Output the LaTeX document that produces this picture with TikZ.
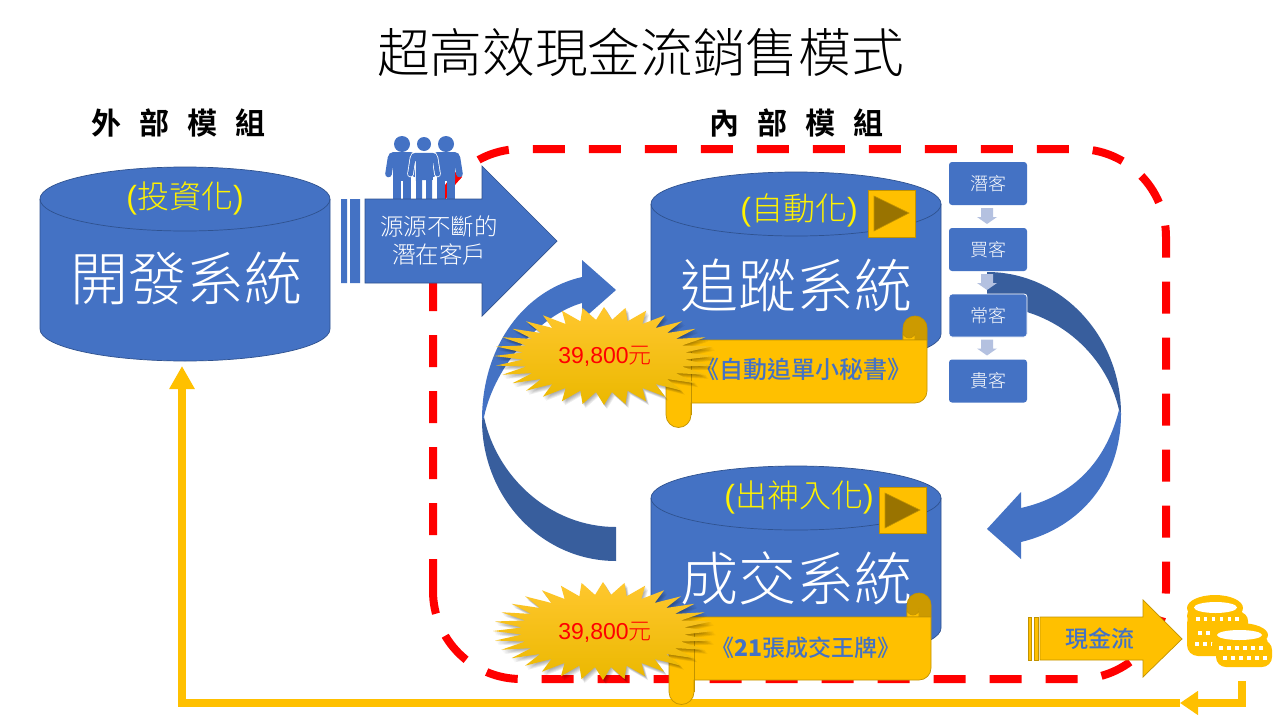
\documentclass[tikz,border=0pt]{standalone}
\usepackage{fontspec}
\usetikzlibrary{arrows.meta}
\setmainfont{Liberation Sans}
\newfontfamily\cjkl{Noto Sans CJK TC Light}
\newfontfamily\cjk{Noto Sans CJK TC Medium}
\newfontfamily\cjkb{Noto Sans CJK TC Bold}
\definecolor{pblue}{HTML}{4472C4}
\definecolor{pline}{HTML}{2F528F}
\definecolor{pdark}{HTML}{385E9D}
\definecolor{pgold}{HTML}{FFC000}
\definecolor{pgline}{HTML}{C29300}
\definecolor{pgdark}{HTML}{CC9A00}
\definecolor{ptri}{HTML}{997300}
\definecolor{plight}{HTML}{B4C1E0}
\definecolor{sealtop}{HTML}{FFC72E}
\definecolor{sealbot}{HTML}{EBB800}
\newcommand\fs[1]{\fontsize{#1pt}{#1pt}\selectfont}
\newcommand\cyl[2]{%
  \draw[bluebody] ({#1-145},{#2+32}) -- ({#1-145},{#2+162})
    arc[start angle=180,end angle=0,x radius=145,y radius=32]
    -- ({#1+145},{#2+32}) arc[start angle=0,end angle=-180,x radius=145,y radius=32] -- cycle;
  \draw[pline,line width=.7pt] ({#1-145},{#2+32}) arc[start angle=180,end angle=0,x radius=145,y radius=32];}
\newcommand\scrollshape[4]{% L R T B
  \draw[goldbody,fill=pgdark] ({#2-24},#3) -- ({#2-24},{#3-12}) arc[start angle=180,end angle=360,radius=12] -- (#2,#3) -- cycle;
  \draw[goldbody] ({#2-24},#3) -- ({#2-24},{#3-8}) arc[start angle=180,end angle=0,radius=6] -- ({#2-12},#3) -- cycle;
  \draw[goldbody] ({#1-12.5},#3) -- (#2,#3) -- (#2,{#4-12})
    arc[start angle=0,end angle=90,radius=12] -- (#1,#4) -- (#1,{#4+12})
    arc[start angle=0,end angle=180,radius=12.5] -- ({#1-25},{#3+12.5})
    arc[start angle=180,end angle=270,radius=12.5] -- cycle;
  \draw[pgline,line width=.7pt] (#1,{#3+12}) -- (#1,{#4+12});}
\newcommand\seal[2]{%
  \foreach \o in {1,2,3,4,5}{\fill[black,opacity=.07] plot[samples at={0,...,63},variable=\i]
  ({#1+\o*.6+110*(1-.26*mod(\i,2))*cos(\i*5.625)},{#2+\o*.8+49*(1-.26*mod(\i,2))*sin(\i*5.625)}) -- cycle;}
  \shade[top color=sealtop,middle color=pgold,bottom color=sealbot] plot[samples at={0,...,63},variable=\i]
  ({#1+110*(1-.26*mod(\i,2))*cos(\i*5.625)},{#2+49*(1-.26*mod(\i,2))*sin(\i*5.625)}) -- cycle;}
\newcommand\person[2]{% cx, halo colour
  \foreach \c/\w/\e in {#2/1.6/1.0,pblue/0/0}{%
    \fill[\c] (#1,144) circle ({7+\e});
    \draw[\c,line width={5pt+\w pt},line cap=round] ({#1-11},158) -- ({#1-13.5},174);
    \draw[\c,line width={5pt+\w pt},line cap=round] ({#1+11},158) -- ({#1+13.5},174);
    \draw[\c,line width={\w pt+.01pt},fill=\c,rounded corners=4pt] ({#1-13},153) -- ({#1+13},153) -- ({#1+13},161) -- ({#1-13},161) -- cycle;
    \draw[\c,line width={\w pt+.01pt},fill=\c] ({#1-8.5},156) rectangle ({#1+8.5},180);
    \draw[\c,line width={\w pt+.01pt},fill=\c] ({#1-8},178) rectangle ({#1-2},199);
    \draw[\c,line width={\w pt+.01pt},fill=\c] ({#1+2},178) rectangle ({#1+8},199);}}
\newcommand\coindots[2]{\foreach \x in {#1}{\fill[white] (\x,{#2-2}) rectangle ({\x+3.6},{#2+2});}}
\newcommand\downarr[1]{\fill[plight] (981,#1) -- (993,#1) -- (993,{#1+9}) -- (997,{#1+9}) -- (987,{#1+16}) -- (977,{#1+9}) -- (981,{#1+9}) -- cycle;}
\tikzset{
  bluebody/.style={fill=pblue,draw=pline,line width=.7pt},
  goldbody/.style={fill=pgold,draw=pgline,line width=.7pt},
  flowbox/.style={fill=pblue,rounded corners=3pt,inner sep=0pt,minimum width=78pt,minimum height=43pt,text=white,font=\fs{18}\cjkl},
  redframe/.style={draw=red,line width=8pt,dash pattern=on 32pt off 24pt},
  goldline/.style={draw=pgold,line width=7.5pt},
  tipbend/.style={-{Triangle[length=18pt,width=23pt]}},
  tipgold/.style={-{Triangle[length=23pt,width=24pt]}},
  lbl/.style={inner sep=0pt},
}
\begin{document}
\begin{tikzpicture}[x=1pt,y=-1pt]
\useasboundingbox (0,0) rectangle (1280,720);
\fill[white] (0,0) rectangle (1280,720);
% Title & headings
\node[lbl] (title) at (640.5,52) {\fs{52.7}\cjkl 超高效現金流銷售模式};
\node[lbl] (outerhead) at (178,123) {\fs{30}\cjkb 外\hspace{18pt}部\hspace{18pt}模\hspace{18pt}組};
\node[lbl] (innerhead) at (796,123) {\fs{30}\cjkb 內\hspace{18pt}部\hspace{18pt}模\hspace{18pt}組};
% dashed frame
\draw[redframe] (433,591) -- (433,237) arc[start angle=180,end angle=270,radius=88]
  -- (1078,149) arc[start angle=-90,end angle=0,radius=88]
  -- (1166,591) arc[start angle=0,end angle=90,radius=88]
  -- (521,679) arc[start angle=90,end angle=180,radius=88];
% gold feedback line
\coordinate (coinout) at (1242,681);
\coordinate (bend) at (1180,703);
\coordinate (cylin) at (182,366);
\draw[goldline,tipbend] (coinout) |- (bend);
\draw[goldline,tipgold] (bend) -| (cylin);
% left cylinder
\cyl{185}{167}
\node[lbl,text=yellow] (t1) at (185,198) {\fs{32}({\cjkl 投資化})};
\node[lbl,text=white] (s1) at (186,278) {\fs{58}\cjkl 開發系統};
% people
\person{446}{pblue}
\person{402}{pblue}
\person{424}{white}
% big arrow
\fill[pblue] (341,199) rectangle (347,283) (350,199) rectangle (360,283);
\draw[bluebody] (365,199) -- (482,199) -- (482,166) -- (557,241) -- (482,316) -- (482,283) -- (365,283) -- cycle;
\node[lbl,text=white,align=center] (lead) at (439,240.5) {\fs{23.5}\cjkl 源源不斷的\\[5pt]\fs{23.5}\cjkl 潛在客戶};
% right cylinder 1
\cyl{796}{172}
\node[lbl,text=yellow] (t2) at (799,210) {\fs{32}({\cjkl 自動化})};
\node[lbl,text=white] (s2) at (796,285) {\fs{58}\cjkl 追蹤系統};
\fill[pgold,draw=pgline,line width=.8pt] (868,190) rectangle (915,237);
\fill[ptri,draw=pgline,line width=.6pt] (874,196) -- (909,213) -- (874,231) -- cycle;
% right cylinder 2
\cyl{796}{466}
\node[lbl,text=yellow] (t3) at (799,497) {\fs{32}({\cjkl 出神入化})};
\node[lbl,text=white] (s3) at (796,578) {\fs{58}\cjkl 成交系統};
\fill[pgold,draw=pgline,line width=.8pt] (879,487) rectangle (926,533);
\fill[ptri,draw=pgline,line width=.6pt] (885,493) -- (920,510) -- (885,528) -- cycle;
% curved arrow, left
\fill[pdark] (482,420) .. controls (482,498) and (542,561) .. (616,561) -- (616,527)
  .. controls (551,527) and (497,478) .. (484,417) -- cycle;
\fill[pblue] (482,420) .. controls (482,345) and (525,290) .. (582,277) -- (582,260) -- (616,290)
  -- (582,320) -- (582,303) .. controls (540,315) and (495,365) .. (484,417) -- cycle;
% curved arrow, right
\fill[pdark] (1121,414) .. controls (1121,336) and (1061,272) .. (987,272) -- (987,306)
  .. controls (1052,306) and (1106,352) .. (1119,410) -- cycle;
\fill[pblue] (1121,414) .. controls (1121,480) and (1080,528) .. (1021,542) -- (1021,559) -- (987,529)
  -- (1021,492) -- (1021,508) .. controls (1070,497) and (1105,465) .. (1119,410) -- cycle;
% flow boxes
\node[flowbox] (b1) at (988,183.5) {潛客};
\node[flowbox] (b2) at (988,249.5) {買客};
\node[flowbox] (b3) at (988,315.5) {常客};
\node[flowbox] (b4) at (988,381) {貴客};
\downarr{208}\downarr{274}\downarr{339.5}
\draw[white,line width=.8pt,rounded corners=3pt] (949,294) rectangle (1027,337);
% scrolls
\scrollshape{691}{927}{340}{403}
\node[lbl,text=pblue] (sc1) at (803,369) {\fs{24}\cjk 《自動追單小秘書》};
\seal{604}{356}
\node[lbl,text=red] (p1) at (605,356) {\fs{23}39,800{\cjkl 元}};
\scrollshape{694}{931}{617}{680}
\node[lbl,text=pblue] (sc2) at (806,648) {\fs{23}\cjk 《\textbf{21}張成交王牌》};
\seal{603}{631}
\node[lbl,text=red] (p2) at (605,632) {\fs{23}39,800{\cjkl 元}};
% cash arrow
\draw[goldbody] (1028,617) rectangle (1031,660) (1034,617) rectangle (1038,660);
\draw[goldbody] (1040,617) -- (1143,617) -- (1143,600) -- (1182,639) -- (1143,677) -- (1143,660) -- (1040,660) -- cycle;
\node[lbl,text=pblue] (cash) at (1100,639) {\fs{23}\cjk 現金流};
% coins
\fill[pgold,rounded corners=11pt] (1187,612) rectangle (1240,656);
\fill[pgold,rounded corners=9pt] (1190,612) rectangle (1248,640);
\fill[pgold] (1215,608) ellipse[x radius=28,y radius=13];
\fill[pgold,rounded corners=10pt] (1187,606) rectangle (1243,626);
\fill[white] (1215.5,607.5) ellipse[x radius=21.5,y radius=5.5];
\coindots{1196,1203.5,1211.5,1219.5,1227.5,1235}{619}
\coindots{1198,1206}{633}
\coindots{1195,1203,1211}{644}
\fill[pgold,rounded corners=10pt] (1216,640) rectangle (1272,667);
\fill[pgold] (1240,635) ellipse[x radius=28,y radius=12];
\fill[pgold,rounded corners=10pt] (1212,634) rectangle (1268,656);
\fill[white] (1239.5,635) ellipse[x radius=22.5,y radius=5];
\coindots{1219,1227,1235,1243,1251,1259}{647.5}
\coindots{1223,1231,1239,1247,1255,1263}{658}
\end{tikzpicture}
\end{document}
